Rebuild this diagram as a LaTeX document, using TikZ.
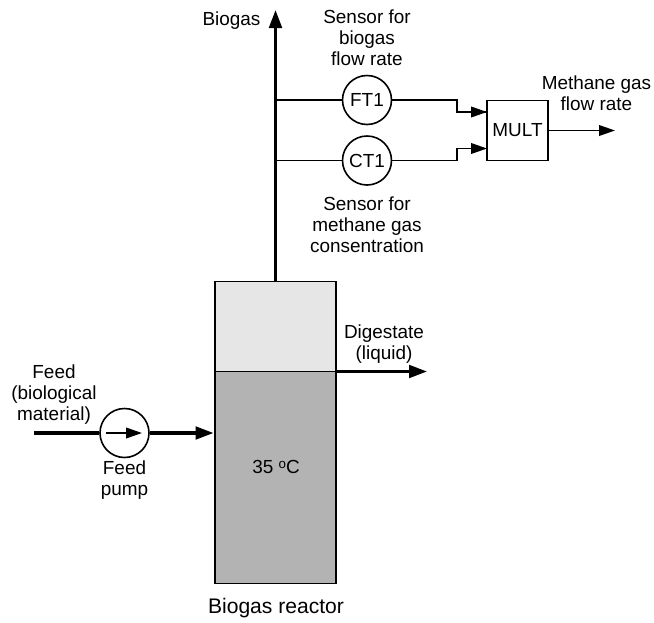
\documentclass[tikz,border=0pt]{standalone}
\usepackage{fontspec}
\setmainfont{Liberation Sans}
\usetikzlibrary{arrows.meta,calc}
\definecolor{gasgrey}{HTML}{E6E6E6}
\definecolor{liquidgrey}{HTML}{B3B3B3}
\tikzset{
  px/.style={x=0.75pt,y=-0.75pt},
  lbl/.style={inner sep=0pt,align=center,font=\fontsize{14.2}{15.75}\selectfont},
  sensor/.style={circle,draw,line width=1.2pt,fill=white,minimum size=36.75pt,inner sep=0pt,font=\fontsize{14.2}{15.75}\selectfont},
  vessel/.style={rectangle,draw,line width=1.2pt,inner sep=0pt,outer sep=0pt},
  pipe/.style={line width=2.3pt,-{Triangle[length=13.5pt,width=9.5pt]}},
  pipeplain/.style={line width=2.3pt},
  signal/.style={line width=1.3pt},
  signalarrow/.style={line width=1.3pt,-{Triangle[length=12pt,width=8pt]}}
}
\begin{document}
\begin{tikzpicture}[px]
\useasboundingbox (0,0) rectangle (654,622);
% reactor
\node[vessel,fill=gasgrey,minimum width=90.75pt,minimum height=67.5pt] (gas) at (275.5,326.5) {};
\node[vessel,fill=liquidgrey,minimum width=90.75pt,minimum height=159pt] (liquid) at (275.5,477.5) {};
% biogas line
\coordinate (biogastop) at (275.5,10);
\draw[pipe] (gas.north) -- (biogastop);
% sensors
\node[sensor] (ft) at (367,100) {FT1};
\node[sensor] (ct) at (367,160.5) {CT1};
\coordinate (ftj) at (275.5,100);
\coordinate (ctj) at (275.5,160.5);
\draw[signal] (ftj) -- (ft);
\draw[signal] (ctj) -- (ct);
% multiplier
\node[vessel,minimum width=45.75pt,minimum height=45pt,font=\fontsize{14.2}{15.75}\selectfont] (mult) at (517.5,130.5) {MULT};
\coordinate (multin1) at (487,112);
\coordinate (multin2) at (487,148.5);
\coordinate (multout) at (615,130.5);
\draw[signal] (ft.east) -| (457,112) -- (multin1);
\draw[signal] (ct.east) -| (457,148.5) -- (multin2);
\draw[signalarrow] (457,112) -- (multin1);
\draw[signalarrow] (457,148.5) -- (multin2);
\draw[signalarrow] (mult.east) -- (multout);
% digestate
\coordinate (digout) at ($(liquid.north east)+(91,0)$);
\draw[pipe] (liquid.north east) -- (digout);
% feed
\node[sensor] (pump) at (124.5,433) {};
\coordinate (feedin) at (34,433);
\coordinate (pumpin) at (106,433);
\coordinate (pumpout) at (142,433);
\coordinate (reactorin) at (213.5,433);
\draw[pipeplain] (feedin) -- (pump);
\draw[pipe] (pump) -- (reactorin);
\draw[signalarrow] (pumpin) -- (pumpout);
% labels
\node[lbl] (lbiogas) at (231.5,20.5) {Biogas};
\node[lbl] (lsensor1) at (367,38) {Sensor for\\biogas\\flow rate};
\node[lbl] (lmethane) at (596.5,93) {Methane gas\\flow rate};
\node[lbl] (lsensor2) at (367,225) {Sensor for\\methane gas\\consentration};
\node[lbl] (ldig) at (384,344) {Digestate\\(liquid)};
\node[lbl] (lfeed) at (54,394.5) {Feed\\(biological\\material)};
\node[lbl] (lpump) at (124.5,480) {Feed\\pump};
\node[lbl] (ltemp) at (276,467) {35 \raisebox{0.55ex}{\fontsize{10}{10}\selectfont o}C};
\node[lbl,font=\fontsize{15.8}{18}\selectfont] (lreactor) at (276,608.5) {Biogas reactor};
\end{tikzpicture}
\end{document}
